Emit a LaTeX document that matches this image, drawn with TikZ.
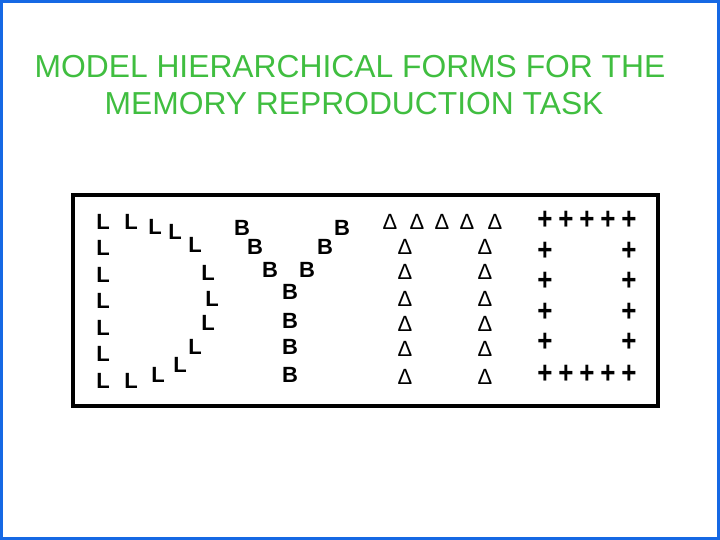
\documentclass[tikz,border=0pt]{standalone}
\usepackage{fontspec}
\usepackage{graphicx}
\setmainfont{Liberation Sans}
\definecolor{frameblue}{RGB}{22,104,228}
\definecolor{titlegreen}{RGB}{64,190,64}
\tikzset{
  sym/.style={font=\fontsize{22}{22}\selectfont\bfseries, inner sep=0pt},
  tri/.style={font=\fontsize{22}{22}\selectfont, inner sep=0pt},
  plus/.style={font=\fontsize{26}{26}\selectfont\bfseries, inner sep=0pt},
  heading/.style={font=\fontsize{31.8}{37}\selectfont, text=titlegreen, inner sep=0pt, anchor=base}
}
\newcommand{\tallplus}{\scalebox{1}[1.2]{+}}
\begin{document}
\begin{tikzpicture}[x=1pt,y=-1pt]
      \useasboundingbox (0,0) rectangle (720,540);
      \fill[white] (0,0) rectangle (720,540);
      \draw[frameblue, line width=3pt] (1.5,1.5) rectangle (718.5,538.5);
      \node[heading] (title1) at (350,78) {MODEL HIERARCHICAL FORMS FOR THE};
      \node[heading] (title2) at (354,115) {MEMORY REPRODUCTION TASK};
      \draw[line width=3.2pt] (73,195) rectangle (658,406);
      % the D made of L
      \draw[sym]
        (103,222) node (l1){L}
        (131,222) node (l2){L}
        (155,227) node (l3){L}
        (175,232) node (l4){L}
        (195,245) node (l5){L}
        (208,273) node (l6){L}
        (212,299) node (l7){L}
        (208,323) node (l8){L}
        (195,347) node (l9){L}
        (180,365) node (l10){L}
        (158,375) node (l11){L}
        (131,381) node (l12){L}
        (103,381) node (l13){L}
        (103,354) node (l14){L}
        (103,328) node (l15){L}
        (103,301) node (l16){L}
        (103,275) node (l17){L}
        (103,248) node (l18){L};
      % the Y made of B
      \draw[sym]
        (242,228) node (b1){B}
        (255,247) node (b2){B}
        (270,270) node (b3){B}
        (307,270) node (b4){B}
        (325,247) node (b5){B}
        (342,228) node (b6){B}
        (290,292) node (b7){B}
        (290,321) node (b8){B}
        (290,347) node (b9){B}
        (290,375) node (b10){B};
      % the T made of triangles
      \draw[tri]
        (390,222) node (t1){Δ}
        (417,222) node (t2){Δ}
        (442,222) node (t3){Δ}
        (467,222) node (t4){Δ}
        (495,222) node (t5){Δ};
      \foreach \y [count=\i] in {247,272,299,324,349,377} {
        \node[tri] (tl\i) at (405,\y) {Δ};
        \node[tri] (tr\i) at (485,\y) {Δ};
      }
      % the square made of plus signs
      \foreach \x [count=\i] in {545,566,587,608,629} {
        \node[plus] (pt\i) at (\x,220.5) {\tallplus};
        \node[plus] (pb\i) at (\x,374) {\tallplus};
      }
      \foreach \y [count=\i] in {251,281,312,342} {
        \node[plus] (pl\i) at (545,\y) {\tallplus};
        \node[plus] (pr\i) at (629,\y) {\tallplus};
      }
    \end{tikzpicture}
\end{document}
